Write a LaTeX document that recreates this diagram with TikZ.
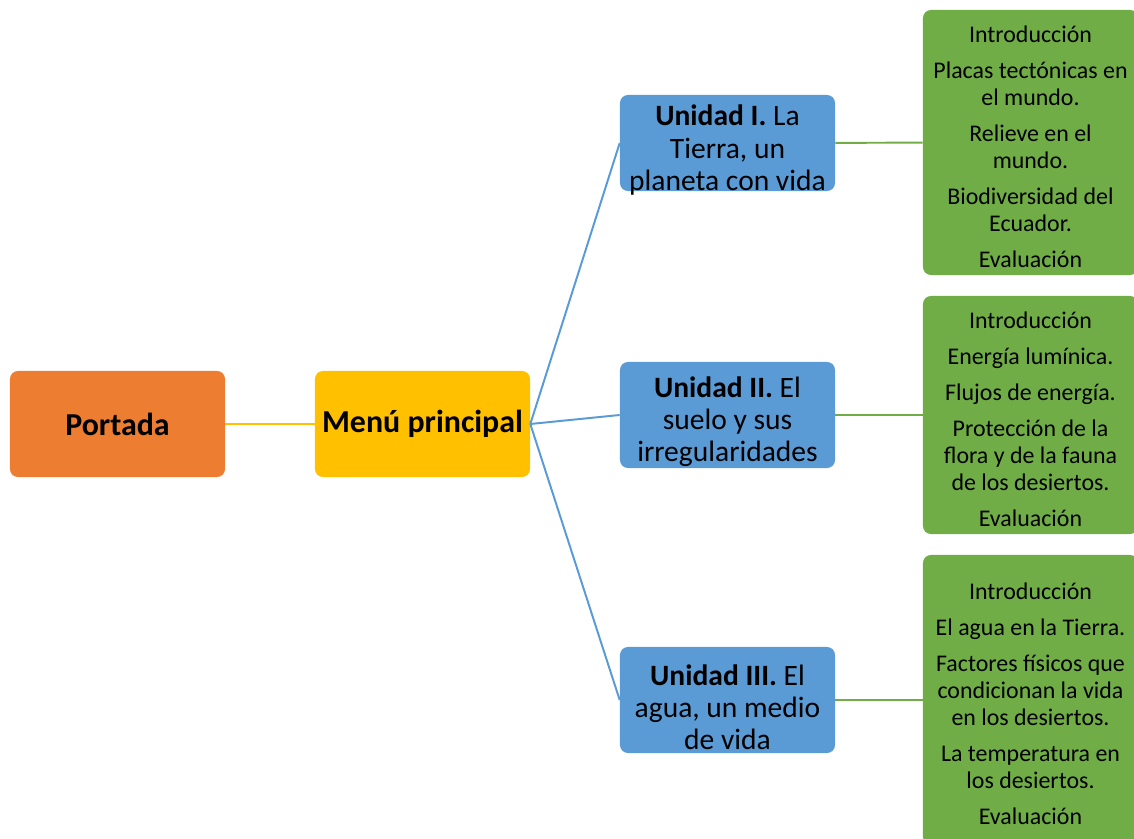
\documentclass[tikz,border=0pt]{standalone}
\usepackage{fontspec}
\setmainfont{Carlito}
\definecolor{naranja}{HTML}{ED7D31}
\definecolor{amarillo}{HTML}{FFC000}
\definecolor{azul}{HTML}{5B9BD5}
\definecolor{verde}{HTML}{70AD47}
\tikzset{
  caja/.style={rounded corners=0.2cm, inner sep=0cm, minimum width=5.375cm, align=flush center},
  inicio/.style={caja, minimum height=2.65cm, font=\fontsize{22.7}{26}\selectfont\bfseries},
  unidad/.style={caja, fill=azul, minimum height=2.65cm, text width=5.3cm, font=\fontsize{21}{22.8}\selectfont, execute at end node=\vspace*{-10pt}},
  tema/.style={caja, fill=verde, text width=5.2cm, font=\fontsize{17}{19.2}\selectfont, execute at end node=\vspace*{-6pt}},
}
\begin{document}
\begin{tikzpicture}[x=0.025cm, y=-0.025cm]
    \useasboundingbox (0,0) rectangle (1134,839);
    \node[inicio, fill=naranja] at (117.5,424) (PO) {\raisebox{-4.3pt}{Portada}};
    \node[inicio, fill=amarillo] at (422.5,424) (MP) {\raisebox{-4.3pt}{Menú principal}};
    \node[unidad, minimum height=2.4cm] at (727.5,143) (U1) {\textbf{Unidad I.} La\\Tierra, un\\planeta con vida};
    \node[unidad] at (727.5,415) (U2) {\textbf{Unidad II.} El\\suelo y sus\\irregularidades};
    \node[unidad] at (727.5,700) (U3) {\textbf{Unidad III.} El\\agua, un medio\\de vida};
    \node[tema, minimum height=6.625cm] at (1030.5,142.5) (T1) {Introducción\\[6.4pt]Placas tectónicas en\\el mundo.\\[6.4pt]Relieve en el\\mundo.\\[6.4pt]Biodiversidad del\\Ecuador.\\[6.4pt]Evaluación};
    \node[tema, minimum height=5.95cm] at (1030.5,415) (T2) {Introducción\\[6.4pt]Energía lumínica.\\[6.4pt]Flujos de energía.\\[6.4pt]Protección de la\\flora y de la fauna\\de los desiertos.\\[6.4pt]Evaluación};
    \node[tema, minimum height=7.25cm] at (1030.5,700) (T3) {Introducción\\[6.4pt]El agua en la Tierra.\\[6.4pt]Factores físicos que\\condicionan la vida\\en los desiertos.\\[6.4pt]La temperatura en\\los desiertos.\\[6.4pt]Evaluación};
    \draw[amarillo, line width=1.4pt] (PO) -- (MP);
    \draw[azul, line width=1.4pt] (MP.east) -- (U1.west);
    \draw[azul, line width=1.4pt] (MP.east) -- (U2.west);
    \draw[azul, line width=1.4pt] (MP.east) -- (U3.west);
    \draw[verde, line width=1.4pt] (U1) -- (T1);
    \draw[verde, line width=1.4pt] (U2) -- (T2);
    \draw[verde, line width=1.4pt] (U3) -- (T3);
\end{tikzpicture}
\end{document}
